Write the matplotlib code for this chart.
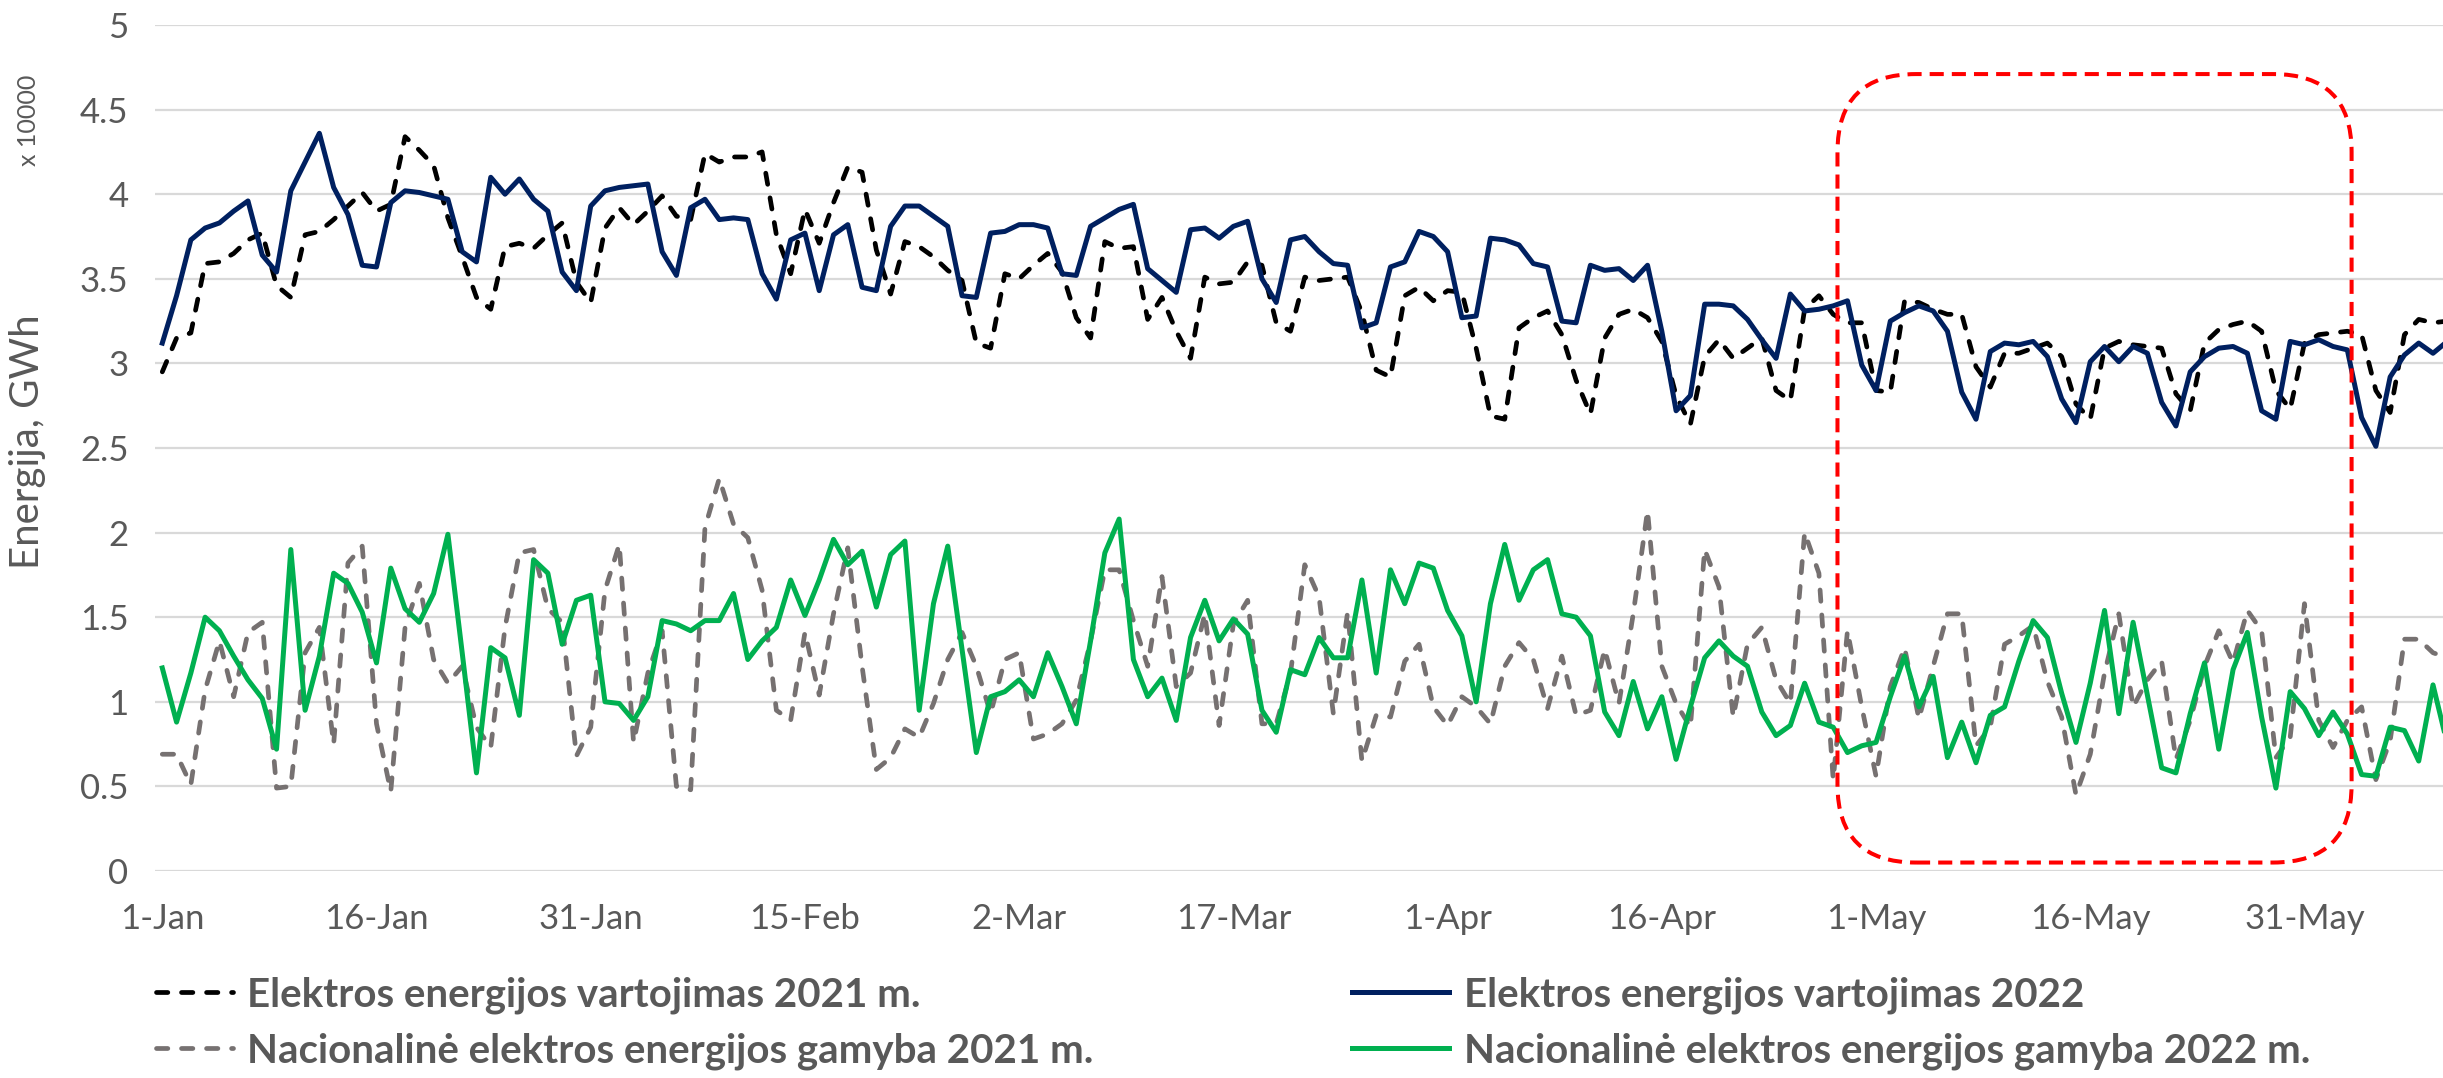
import pandas as pd
import matplotlib
matplotlib.use("Agg")
import matplotlib.pyplot as plt
import matplotlib.dates as mdates
from matplotlib.patches import FancyBboxPatch

plt.rcParams['font.family'] = ['Lato', 'DejaVu Sans']

# daily values, GWh x 10000, from 1 Jan
vart_2021 = [2.95, 3.15, 3.18, 3.59, 3.60, 3.65, 3.73, 3.77, 3.46, 3.39,
             3.76, 3.78, 3.85, 3.93, 4.01, 3.90, 3.94, 4.34, 4.26, 4.17,
             3.86, 3.63, 3.39, 3.32, 3.69, 3.71, 3.68, 3.76, 3.83, 3.48,
             3.36, 3.80, 3.92, 3.82, 3.90, 3.99, 3.87, 3.85, 4.24, 4.19,
             4.22, 4.22, 4.25, 3.76, 3.53, 3.91, 3.71, 3.95, 4.16, 4.13,
             3.67, 3.41, 3.72, 3.69, 3.63, 3.55, 3.49, 3.12, 3.09, 3.53,
             3.50, 3.58, 3.65, 3.54, 3.27, 3.15, 3.72, 3.68, 3.69, 3.26,
             3.39, 3.19, 3.03, 3.51, 3.47, 3.48, 3.60, 3.58, 3.24, 3.19,
             3.51, 3.49, 3.50, 3.51, 3.30, 2.96, 2.92, 3.40, 3.45, 3.37,
             3.43, 3.42, 3.09, 2.69, 2.67, 3.21, 3.27, 3.31, 3.17, 2.90,
             2.70, 3.15, 3.29, 3.32, 3.27, 3.13, 2.81, 2.64, 3.04, 3.14,
             3.03, 3.09, 3.15, 2.84, 2.78, 3.32, 3.40, 3.29, 3.24, 3.24,
             2.84, 2.83, 3.37, 3.36, 3.32, 3.29, 3.29, 2.98, 2.86, 3.06,
             3.06, 3.09, 3.12, 3.04, 2.76, 2.67, 3.09, 3.13, 3.11, 3.10,
             3.09, 2.82, 2.72, 3.12, 3.20, 3.23, 3.25, 3.19, 2.84, 2.73,
             3.12, 3.17, 3.18, 3.19, 3.17, 2.84, 2.71, 3.17, 3.26, 3.24,
             3.25]

vart_2022 = [3.12, 3.40, 3.73, 3.80, 3.83, 3.90, 3.96, 3.64, 3.54, 4.02,
             4.19, 4.36, 4.04, 3.88, 3.58, 3.57, 3.95, 4.02, 4.01, 3.99,
             3.97, 3.66, 3.60, 4.10, 4.00, 4.09, 3.97, 3.90, 3.54, 3.43,
             3.93, 4.02, 4.04, 4.05, 4.06, 3.66, 3.52, 3.92, 3.97, 3.85,
             3.86, 3.85, 3.53, 3.38, 3.73, 3.77, 3.43, 3.76, 3.82, 3.45,
             3.43, 3.81, 3.93, 3.93, 3.87, 3.81, 3.40, 3.39, 3.77, 3.78,
             3.82, 3.82, 3.80, 3.53, 3.52, 3.81, 3.86, 3.91, 3.94, 3.56,
             3.49, 3.42, 3.79, 3.80, 3.74, 3.81, 3.84, 3.50, 3.36, 3.73,
             3.75, 3.66, 3.59, 3.58, 3.21, 3.24, 3.57, 3.60, 3.78, 3.75,
             3.66, 3.27, 3.28, 3.74, 3.73, 3.70, 3.59, 3.57, 3.25, 3.24,
             3.58, 3.55, 3.56, 3.49, 3.58, 3.19, 2.72, 2.81, 3.35, 3.35,
             3.34, 3.26, 3.14, 3.03, 3.41, 3.31, 3.32, 3.34, 3.37, 2.99,
             2.84, 3.25, 3.30, 3.34, 3.31, 3.19, 2.83, 2.67, 3.07, 3.12,
             3.11, 3.13, 3.04, 2.79, 2.65, 3.01, 3.10, 3.01, 3.10, 3.06,
             2.77, 2.63, 2.95, 3.04, 3.09, 3.10, 3.06, 2.72, 2.67, 3.13,
             3.11, 3.14, 3.10, 3.08, 2.68, 2.51, 2.92, 3.05, 3.12, 3.06,
             3.13]

gamyba_2021 = [0.69, 0.69, 0.51, 1.07, 1.36, 1.03, 1.41, 1.47, 0.49, 0.50,
               1.29, 1.44, 0.75, 1.82, 1.92, 0.87, 0.47, 1.44, 1.70, 1.25,
               1.11, 1.21, 0.85, 0.73, 1.44, 1.88, 1.90, 1.55, 1.47, 0.68,
               0.85, 1.66, 1.93, 0.76, 1.17, 1.42, 0.50, 0.48, 2.03, 2.32,
               2.05, 1.97, 1.66, 0.95, 0.89, 1.41, 1.04, 1.52, 1.91, 1.21,
               0.60, 0.67, 0.84, 0.79, 0.99, 1.25, 1.41, 1.21, 0.93, 1.25,
               1.29, 0.78, 0.81, 0.87, 1.01, 1.36, 1.78, 1.78, 1.48, 1.21,
               1.74, 1.09, 1.17, 1.52, 0.86, 1.46, 1.60, 0.87, 0.87, 1.17,
               1.81, 1.62, 0.93, 1.53, 0.65, 0.92, 0.91, 1.24, 1.34, 0.97,
               0.86, 1.03, 0.97, 0.87, 1.21, 1.35, 1.25, 0.96, 1.27, 0.92,
               0.95, 1.31, 0.99, 1.52, 2.13, 1.21, 0.99, 0.85, 1.90, 1.68,
               0.91, 1.34, 1.44, 1.13, 0.99, 2.00, 1.76, 0.54, 1.42, 0.97,
               0.56, 1.09, 1.32, 0.90, 1.21, 1.52, 1.52, 0.74, 0.85, 1.34,
               1.39, 1.45, 1.12, 0.91, 0.45, 0.69, 1.17, 1.52, 0.97, 1.13,
               1.24, 0.66, 0.89, 1.21, 1.42, 1.23, 1.54, 1.42, 0.67, 0.79,
               1.58, 0.89, 0.73, 0.89, 0.97, 0.54, 0.77, 1.37, 1.37, 1.29,
               1.26]

gamyba_2022 = [1.20, 0.88, 1.17, 1.50, 1.42, 1.27, 1.13, 1.02, 0.72, 1.90,
               0.95, 1.27, 1.76, 1.70, 1.53, 1.23, 1.79, 1.55, 1.47, 1.64,
               1.99, 1.29, 0.58, 1.32, 1.26, 0.92, 1.84, 1.76, 1.34, 1.60,
               1.63, 1.00, 0.99, 0.89, 1.03, 1.48, 1.46, 1.42, 1.48, 1.48,
               1.64, 1.25, 1.36, 1.44, 1.72, 1.51, 1.72, 1.96, 1.81, 1.89,
               1.56, 1.87, 1.95, 0.95, 1.58, 1.92, 1.31, 0.70, 1.03, 1.06,
               1.13, 1.03, 1.29, 1.09, 0.87, 1.36, 1.88, 2.08, 1.25, 1.03,
               1.14, 0.89, 1.38, 1.60, 1.36, 1.49, 1.40, 0.95, 0.82, 1.19,
               1.16, 1.38, 1.26, 1.26, 1.72, 1.17, 1.78, 1.58, 1.82, 1.79,
               1.54, 1.39, 1.00, 1.58, 1.93, 1.60, 1.78, 1.84, 1.52, 1.50,
               1.39, 0.94, 0.80, 1.12, 0.84, 1.03, 0.66, 0.97, 1.26, 1.36,
               1.27, 1.21, 0.94, 0.80, 0.86, 1.11, 0.88, 0.85, 0.70, 0.74,
               0.76, 1.03, 1.27, 0.97, 1.15, 0.67, 0.88, 0.64, 0.92, 0.97,
               1.24, 1.48, 1.38, 1.05, 0.76, 1.11, 1.54, 0.93, 1.47, 1.04,
               0.61, 0.58, 0.93, 1.23, 0.72, 1.19, 1.41, 0.91, 0.49, 1.06,
               0.96, 0.80, 0.94, 0.81, 0.57, 0.56, 0.85, 0.83, 0.65, 1.10,
               0.75]

labels = ["Elektros energijos vartojimas 2021 m.",
          "Elektros energijos vartojimas 2022",
          "Nacionalinė elektros energijos gamyba 2021 m.",
          "Nacionalinė elektros energijos gamyba 2022 m."]

# highlighted period (days from 1 Jan, values)
box_days = (117.3, 153.3)
box_vals = (0.05, 4.71)

dates = pd.date_range("2022-01-01", periods=len(vart_2022))
x = mdates.date2num(dates)

grey_txt = "#595959"

fig = plt.figure(figsize=(24.43, 10.78), dpi=100)
ax = fig.add_axes([155 / 2443, 1 - 871 / 1078, 1 - 155 / 2443, 846 / 1078])

l1, = ax.plot(x, vart_2021, color="black", lw=3.4, ls=(0, (2.4, 2.9)),
              dash_capstyle="round")
l3, = ax.plot(x, gamyba_2021, color="#767171", lw=3.4, ls=(0, (2.4, 2.9)),
              dash_capstyle="round")
l2, = ax.plot(x, vart_2022, color="#002060", lw=3.6)
l4, = ax.plot(x, gamyba_2022, color="#00B050", lw=3.6)

# red rounded box round May
r_days = 5.5
ax.add_patch(FancyBboxPatch((x[0] + box_days[0], box_vals[0]),
                            box_days[1] - box_days[0], box_vals[1] - box_vals[0],
                            boxstyle=f"round,pad=0,rounding_size={r_days}",
                            mutation_aspect=0.0837, fill=False, ec="#FF0000",
                            lw=2.9, ls=(0, (3.5, 2.0)), clip_on=False, zorder=5))

ax.set_xlim(x[0] - 0.51, x[0] + 159.7)
ax.set_ylim(0, 5)
ax.set_yticks([i * 0.5 for i in range(11)])
ax.set_yticklabels([f"{i * 0.5:g}" for i in range(11)])
ax.set_xticks(x[::15])
ax.set_xticklabels([f"{d.day}-{d.strftime('%b')}" for d in dates[::15]])
ax.tick_params(axis="both", length=0, labelsize=25, labelcolor=grey_txt)
ax.tick_params(axis="x", pad=23)
ax.tick_params(axis="y", pad=19)
for s in ax.spines.values():
    s.set_visible(False)
ax.yaxis.grid(True, color="#D9D9D9", lw=1.6)
ax.set_axisbelow(True)

fig.text(28 / 2443, 1 - 442 / 1078, "Energija, GWh", rotation=90, fontsize=29,
         color=grey_txt, ha="center", va="center")
fig.text(28 / 2443, 1 - 120 / 1078, "x 10000", rotation=90, fontsize=18,
         color=grey_txt, ha="center", va="center")

leg_kw = dict(frameon=False, handletextpad=0.37, labelspacing=0.47,
              borderpad=0, borderaxespad=0, loc="center left",
              prop={"weight": "bold", "size": 29})
lg1 = fig.legend([l1, l3], [labels[0], labels[2]], handlelength=1.9,
                 bbox_to_anchor=(156 / 2443, 1 - 1023 / 1078), **leg_kw)
lg2 = fig.legend([l2, l4], [labels[1], labels[3]], handlelength=2.4,
                 bbox_to_anchor=(1352 / 2443, 1 - 1023 / 1078), **leg_kw)
for lg in (lg1, lg2):
    for t in lg.get_texts():
        t.set_color(grey_txt)

fig.savefig("out.png", dpi=100)
